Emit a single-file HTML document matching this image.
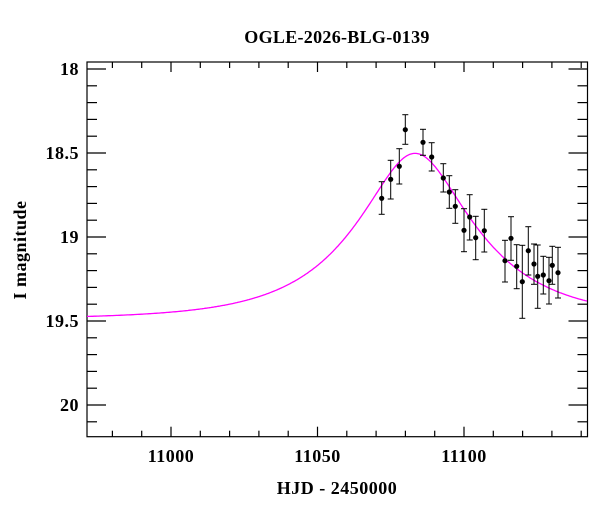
<!DOCTYPE html>
<html><head><meta charset="utf-8"><style>
body{margin:0;background:#fff}
svg{display:block}
text{font-family:"Liberation Serif",serif;fill:#000}
</style></head><body>
<svg id="s" width="600" height="512" viewBox="0 0 600 512">
<text x="337" y="43" font-size="18" font-weight="bold" text-anchor="middle" letter-spacing="0.3">OGLE-2026-BLG-0139</text>
<text x="337" y="494" font-size="18" font-weight="bold" text-anchor="middle" letter-spacing="0.5">HJD - 2450000</text>
<text transform="translate(26,250) rotate(-90)" font-size="18" font-weight="bold" text-anchor="middle" letter-spacing="0.5">I magnitude</text>
<g id="ax" stroke="#000" stroke-width="1.2" fill="none"></g>
<g id="lab" font-size="18" font-weight="bold" letter-spacing="0.5"></g>
<path id="curve" fill="none" stroke="#ff00ff" stroke-width="1.3"/>
<g id="pts"></g>
</svg>
<script>
var L=87,R=587.5,T=62,B=436.7;
function X(t){return 171+(t-11000)*2.93;}
function Y(m){return 69+(m-18)*168;}
var ax=document.getElementById('ax'),lab=document.getElementById('lab'),h='';
h+='<rect x="'+L+'" y="'+T+'" width="'+(R-L)+'" height="'+(B-T)+'"/>';
for(var t=10980;t<=11140;t+=10){var x=X(t),big=(t%50==0)?10:6;
h+='<line x1="'+x+'" y1="'+B+'" x2="'+x+'" y2="'+(B-big)+'"/><line x1="'+x+'" y1="'+T+'" x2="'+x+'" y2="'+(T+big)+'"/>';}
for(var i=0;i<=21;i++){var m=18+i*0.1,y=Y(m),big=(i%5==0)?19:10;
h+='<line x1="'+L+'" y1="'+y+'" x2="'+(L+big)+'" y2="'+y+'"/><line x1="'+R+'" y1="'+y+'" x2="'+(R-big)+'" y2="'+y+'"/>';}
ax.innerHTML=h;
var lh='';
[11000,11050,11100].forEach(function(t){lh+='<text x="'+X(t)+'" y="462" text-anchor="middle">'+t+'</text>';});
[['18',18],['18.5',18.5],['19',19],['19.5',19.5],['20',20]].forEach(function(a){lh+='<text x="79" y="'+(Y(a[1])+6)+'" text-anchor="end">'+a[0]+'</text>';});
lab.innerHTML=lh;
var u0=0.43,t0=11083.3,tE=37,m0=19.49,d='';
for(var x=L;x<=R;x+=1){var t=11000+(x-171)/2.93,tau=(t-t0)/tE,u=Math.sqrt(u0*u0+tau*tau),A=(u*u+2)/(u*Math.sqrt(u*u+4));
var m=m0-2.5*Math.log10(A);d+=(x==L?'M':'L')+x.toFixed(1)+' '+Y(m).toFixed(1);}
document.getElementById('curve').setAttribute('d',d);
var P=[[381.7,198.3,181.7,214.3],[390.7,179.3,160.3,199],[399.3,166.3,148.7,184],[405.3,129.7,114.7,144.3],[423,142.3,129.3,155.3],[431.7,157,142.7,171],[443.3,178,163.7,192],[449.3,192,175.7,208.3],[455.3,206.3,189.7,223.3],[464,230.3,208.7,251.7],[469.7,217,194.7,240],[475.7,237.7,216.3,259.7],[484.3,230.7,209.3,252],[505,260.7,240.3,282],[511,238.3,216.7,260.3],[516.7,266.3,244.7,288.7],[522.3,281.7,245.3,318.3],[528.3,250.7,226.7,275],[534,264,244,284.3],[537.7,276.3,245,308.3],[543.3,275,256.3,294],[549,280.7,257.3,304],[552.3,265.3,246.3,284.3],[558,272.7,247.3,298]];
var ph='';
P.forEach(function(p){var x=p[0];
ph+='<line x1="'+x+'" y1="'+p[2]+'" x2="'+x+'" y2="'+p[3]+'" stroke="#000" stroke-width="1"/>';
ph+='<line x1="'+(x-3)+'" y1="'+p[2]+'" x2="'+(x+3)+'" y2="'+p[2]+'" stroke="#000" stroke-width="1"/>';
ph+='<line x1="'+(x-3)+'" y1="'+p[3]+'" x2="'+(x+3)+'" y2="'+p[3]+'" stroke="#000" stroke-width="1"/>';
ph+='<circle cx="'+x+'" cy="'+p[1]+'" r="2.6" fill="#000"/>';});
document.getElementById('pts').innerHTML=ph;
</script>
</body></html>
